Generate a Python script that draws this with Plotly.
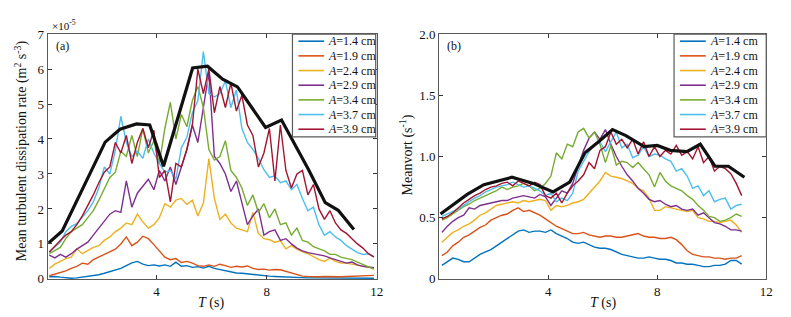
import plotly.graph_objects as go

# ---------------- data ----------------
labels = ["1.4", "1.9", "2.4", "2.9", "3.4", "3.7", "3.9"]
colors = ["#0072BD", "#D95319", "#EDB120", "#7E2F8E", "#77AC30", "#4DBEEE", "#A2142F"]

# time grid (s)
t_left = [round(0.1 + 0.2 * k, 1) for k in range(60)]
t_right = [round(0.1 + 0.2 * k, 1) for k in range(56)]

# (a) mean turbulent dissipation rate, units of 1e-5 m^2 s^-3
eps_14 = [0.06, 0.07, 0.05, 0.03, 0.02, 0.03, 0.05, 0.07, 0.1, 0.12, 0.16, 0.2, 0.24, 0.3, 0.38, 0.46, 0.5, 0.42, 0.38, 0.4,
          0.37, 0.4, 0.36, 0.48, 0.36, 0.38, 0.33, 0.35, 0.31, 0.36, 0.3, 0.27, 0.22, 0.19, 0.17, 0.16, 0.14, 0.12, 0.11, 0.09,
          0.08, 0.07, 0.06, 0.06, 0.05, 0.04, 0.04, 0.03, 0.03, 0.03, 0.02, 0.02, 0.02, 0.02, 0.02, 0.02, 0.02, 0.02, 0.02, 0.02]
eps_19 = [0.09, 0.13, 0.18, 0.23, 0.3, 0.36, 0.45, 0.42, 0.55, 0.62, 0.7, 0.78, 0.85, 1.0, 1.2, 0.95, 1.05, 1.22, 1.15, 0.98,
          0.8, 0.62, 0.55, 0.58, 0.47, 0.5, 0.45, 0.38, 0.36, 0.4, 0.36, 0.42, 0.38, 0.33, 0.36, 0.34, 0.37, 0.3, 0.27, 0.28,
          0.25, 0.27, 0.26, 0.22, 0.18, 0.12, 0.08, 0.07, 0.06, 0.06, 0.07, 0.06, 0.07, 0.06, 0.07, 0.08, 0.08, 0.09, 0.1, 0.1]
eps_24 = [0.3, 0.42, 0.5, 0.58, 0.62, 0.86, 0.72, 0.8, 0.9, 0.95, 1.1, 1.2, 1.35, 1.45, 1.6, 1.55, 1.85, 1.63, 1.45, 1.55,
          1.75, 2.15, 2.05, 2.25, 2.3, 2.13, 2.25, 1.8, 2.17, 3.44, 2.3, 1.7, 1.85, 1.6, 1.45, 1.4, 1.35, 1.9, 1.3, 1.15,
          1.12, 1.05, 1.09, 0.86, 0.95, 0.85, 0.77, 0.72, 0.63, 0.55, 0.5, 0.59, 0.5, 0.45, 0.45, 0.42, 0.4, 0.36, 0.33, 0.3]
eps_29 = [0.68, 0.6, 0.7, 0.62, 0.72, 0.85, 0.95, 1.05, 1.25, 1.45, 1.65, 1.85, 1.95, 1.9, 2.8, 2.05, 2.45, 2.65, 2.85, 2.55,
          3.1, 2.8, 3.2, 2.7, 3.2, 3.7, 4.4, 3.9, 4.9, 5.9, 3.5, 3.3, 3.0, 2.5, 2.8, 2.2, 1.55, 1.8, 2.0, 1.25,
          1.35, 1.4, 1.1, 1.15, 1.0, 0.88, 0.8, 0.75, 0.72, 0.7, 0.66, 0.6, 0.55, 0.5, 0.45, 0.48, 0.4, 0.36, 0.34, 0.32]
eps_34 = [0.72, 0.8, 0.9, 1.15, 1.35, 1.45, 1.55, 1.75, 1.95, 2.25, 2.6, 2.9, 3.05, 3.65, 3.5, 4.1, 3.5, 4.3, 3.6, 3.95,
          3.3, 4.3, 5.05, 4.0, 4.7, 4.35, 5.1, 5.5, 4.9, 3.7, 3.4, 3.5, 3.95, 3.1, 2.9, 2.6, 2.1, 2.4, 1.9, 2.15,
          1.75, 2.0, 1.55, 1.6, 1.25, 1.45, 1.1, 1.05, 0.92, 0.86, 0.8, 0.7, 0.7, 0.62, 0.59, 0.55, 0.48, 0.42, 0.35, 0.28]
eps_37 = [0.77, 0.9, 1.05, 1.35, 1.5, 1.58, 1.75, 1.95, 2.2, 2.6, 3.2, 3.0, 3.67, 4.65, 3.9, 3.5, 3.65, 3.45, 4.0, 3.6,
          3.3, 3.05, 3.1, 2.85, 3.75, 4.05, 4.75, 5.1, 6.5, 5.3, 5.2, 5.3, 5.66, 4.9, 5.4, 4.3, 3.9, 3.7, 3.45, 3.12,
          2.9, 2.95, 2.75, 2.8, 2.55, 2.7, 2.3, 1.95, 2.05, 1.55, 1.25, 1.35, 1.2, 1.1, 0.95, 0.85, 0.75, 0.7, 0.72, 0.62]
eps_39 = [0.77, 0.95, 1.1, 1.25, 1.35, 1.55, 1.8, 2.1, 2.4, 2.75, 3.05, 3.2, 3.9, 3.6, 4.1, 3.3, 3.9, 4.3, 3.75, 4.25,
          2.9, 3.1, 2.2, 3.3, 3.2, 3.7, 4.4, 6.0, 5.3, 6.0, 4.75, 5.5, 4.9, 5.6, 4.8, 5.25, 4.4, 4.1, 3.2, 3.6,
          4.3, 2.8, 4.4, 3.1, 2.6, 3.0, 3.1, 2.4, 2.7, 2.0, 1.7, 1.95, 1.6, 1.4, 1.3, 1.15, 1.0, 0.88, 0.72, 0.63]
env_left_t = [0.08, 0.57, 2.13, 2.67, 3.27, 3.75, 4.25, 5.31, 5.85, 6.4, 6.94, 7.96, 8.54, 9.52, 10.13, 10.6, 11.17]
env_left_v = [1.03, 1.37, 3.91, 4.28, 4.43, 4.40, 3.22, 6.03, 6.08, 5.71, 5.49, 4.33, 4.54, 3.13, 2.18, 1.96, 1.41]

# (b) mean vorticity, s^-1
vort_14 = [0.11, 0.14, 0.17, 0.16, 0.14, 0.14, 0.17, 0.2, 0.22, 0.24, 0.27, 0.3, 0.33, 0.36, 0.39, 0.4, 0.38, 0.39, 0.39, 0.38,
           0.4, 0.37, 0.35, 0.33, 0.3, 0.29, 0.3, 0.28, 0.26, 0.25, 0.25, 0.24, 0.22, 0.2, 0.19, 0.18, 0.17, 0.17, 0.18, 0.17,
           0.16, 0.16, 0.15, 0.13, 0.13, 0.12, 0.12, 0.11, 0.1, 0.1, 0.11, 0.11, 0.12, 0.15, 0.15, 0.12]
vort_19 = [0.19, 0.22, 0.27, 0.3, 0.34, 0.36, 0.39, 0.42, 0.44, 0.48, 0.5, 0.52, 0.53, 0.56, 0.58, 0.55, 0.56, 0.54, 0.52, 0.49,
           0.46, 0.43, 0.41, 0.39, 0.37, 0.37, 0.38, 0.36, 0.35, 0.34, 0.35, 0.35, 0.34, 0.34, 0.35, 0.36, 0.37, 0.35, 0.34, 0.34,
           0.33, 0.33, 0.34, 0.32, 0.28, 0.23, 0.2, 0.19, 0.18, 0.18, 0.17, 0.17, 0.16, 0.17, 0.17, 0.19]
vort_24 = [0.3, 0.34, 0.38, 0.4, 0.43, 0.45, 0.48, 0.52, 0.54, 0.57, 0.6, 0.61, 0.62, 0.63, 0.62, 0.64, 0.63, 0.64, 0.65, 0.64,
           0.56, 0.6, 0.59, 0.6, 0.62, 0.63, 0.65, 0.7, 0.75, 0.8, 0.87, 0.84, 0.83, 0.82, 0.8, 0.78, 0.74, 0.72, 0.66, 0.56,
           0.56, 0.59, 0.58, 0.57, 0.56, 0.55, 0.56, 0.5, 0.49, 0.47, 0.47, 0.46, 0.47, 0.48, 0.44, 0.38]
vort_29 = [0.38, 0.43, 0.47, 0.5, 0.52, 0.58, 0.57, 0.6, 0.61, 0.62, 0.63, 0.64, 0.64, 0.66, 0.67, 0.68, 0.67, 0.66, 0.69, 0.67,
           0.6, 0.66, 0.72, 0.7, 0.78, 0.92, 1.05, 1.15, 1.2, 1.14, 1.22, 1.1, 1.0, 0.92, 0.85, 0.8, 0.74, 0.7, 0.65, 0.63,
           0.64, 0.61, 0.59, 0.6, 0.57, 0.56, 0.57, 0.52, 0.54, 0.5, 0.46, 0.45, 0.43, 0.4, 0.4, 0.39]
vort_34 = [0.48, 0.5, 0.53, 0.56, 0.59, 0.61, 0.64, 0.66, 0.68, 0.7, 0.72, 0.75, 0.73, 0.75, 0.76, 0.78, 0.76, 0.72, 0.74, 0.78,
           0.84, 1.03, 0.98, 1.1, 1.08, 1.2, 1.23, 1.15, 1.2, 1.1, 0.95, 1.09, 0.93, 0.96, 0.95, 0.91, 0.95, 0.9, 0.85, 0.75,
           0.87, 0.8, 0.76, 0.74, 0.72, 0.68, 0.65, 0.6, 0.56, 0.51, 0.5, 0.47, 0.48, 0.5, 0.53, 0.51]
vort_37 = [0.51, 0.53, 0.55, 0.57, 0.6, 0.63, 0.66, 0.68, 0.71, 0.73, 0.75, 0.76, 0.77, 0.79, 0.77, 0.75, 0.76, 0.74, 0.72, 0.68,
           0.7, 0.63, 0.66, 0.64, 0.7, 0.88, 0.96, 1.04, 1.1, 1.12, 1.04, 1.12, 1.2, 1.07, 1.1, 0.99, 1.01, 1.08, 1.0, 1.02,
           1.01, 0.98, 0.96, 0.88, 0.9, 0.84, 0.74, 0.76, 0.68, 0.72, 0.63, 0.65, 0.66, 0.57, 0.6, 0.61]
vort_39 = [0.49, 0.51, 0.54, 0.58, 0.62, 0.65, 0.68, 0.7, 0.73, 0.75, 0.76, 0.78, 0.79, 0.76, 0.8, 0.78, 0.76, 0.79, 0.77, 0.68,
           0.66, 0.7, 0.62, 0.7, 0.76, 0.8, 0.85, 0.95, 0.9, 1.05, 1.08, 1.2, 1.1, 1.14, 1.07, 1.14, 1.02, 1.12, 1.0, 1.08,
           1.0, 1.05, 1.02, 1.09, 1.01, 1.04, 0.98, 1.08, 0.95, 1.0, 0.88, 0.92, 0.9, 0.86, 0.78, 0.68]
env_right_t = [0.05, 1.03, 1.64, 2.67, 3.45, 4.18, 4.79, 5.35, 5.85, 6.36, 6.85, 7.52, 8.0, 8.48, 9.09, 9.58, 10.12, 10.61, 11.2]
env_right_v = [0.53, 0.69, 0.77, 0.83, 0.78, 0.71, 0.79, 1.03, 1.12, 1.22, 1.17, 1.08, 1.09, 1.05, 1.04, 1.1, 0.92, 0.92, 0.83]

eps_series = [eps_14, eps_19, eps_24, eps_29, eps_34, eps_37, eps_39]
vort_series = [vort_14, vort_19, vort_24, vort_29, vort_34, vort_37, vort_39]

# ---------------- figure ----------------
W, H = 791, 317
FONT = "Liberation Serif"


def px(x):
    return x / W


def py(y):
    return 1 - y / H


fig = go.Figure()
for lab, col, ys in zip(labels, colors, eps_series):
    fig.add_trace(go.Scatter(x=t_left, y=ys, mode="lines", line=dict(color=col, width=1.4),
                             name=f"A={lab} cm", showlegend=False, xaxis="x", yaxis="y"))
fig.add_trace(go.Scatter(x=env_left_t, y=env_left_v, mode="lines", line=dict(color="#111111", width=3.2),
                         name="envelope (a)", showlegend=False, xaxis="x", yaxis="y"))
for lab, col, ys in zip(labels, colors, vort_series):
    fig.add_trace(go.Scatter(x=t_right, y=ys, mode="lines", line=dict(color=col, width=1.4),
                             name=f"A={lab} cm", showlegend=False, xaxis="x2", yaxis="y2"))
fig.add_trace(go.Scatter(x=env_right_t, y=env_right_v, mode="lines", line=dict(color="#111111", width=3.2),
                         name="envelope (b)", showlegend=False, xaxis="x2", yaxis="y2"))

ax_common = dict(showline=True, linecolor="#5a5a5a", linewidth=1.3, mirror="ticks", ticks="inside",
                 ticklen=4, tickcolor="#333333", showgrid=False, zeroline=False,
                 tickfont=dict(family=FONT, size=13, color="#111111"))
ydom = [py(277), py(20)]
fig.update_layout(
    width=W, height=H, margin=dict(l=0, r=0, t=0, b=0), autosize=False,
    paper_bgcolor="white", plot_bgcolor="white",
    xaxis=dict(domain=[px(40), px(372)], range=[0.04, 12], tickvals=[4, 8, 12], anchor="y", **ax_common),
    yaxis=dict(domain=ydom, range=[0, 7], tickvals=list(range(8)), anchor="x", **ax_common),
    xaxis2=dict(domain=[px(435), px(765)], range=[0, 12], tickvals=[4, 8, 12], anchor="y2", **ax_common),
    yaxis2=dict(domain=ydom, range=[0, 2], tickvals=[0, 0.5, 1, 1.5, 2],
                ticktext=["0", "0.5", "1.0", "1.5", "2.0"], anchor="x2", **ax_common),
)

ann = []
shapes = []


def add_text(x, y, text, size, angle=0, xa="center", ya="middle"):
    ann.append(dict(x=px(x), y=py(y), xref="paper", yref="paper", showarrow=False, textangle=angle,
                    xanchor=xa, yanchor=ya, text=text,
                    font=dict(family=FONT, size=size, color="#111111")))


# axis titles
add_text(13, 142, "Mean turbulent dissipation rate (m<sup>2</sup> s<sup>-3</sup>)", 14, angle=-90)
add_text(402, 147, "Meanvort (s<sup>-1</sup>)", 14, angle=-90)
add_text(205, 302, "<i>T</i> (s)", 14)
add_text(600, 302, "<i>T</i> (s)", 14)
add_text(42, 10, "×10<sup>-5</sup>", 11, xa="left")
add_text(55, 33, "(a)", 12)
add_text(450, 33, "(b)", 12)

# legends (one per panel)
for (bx0, bx1) in ((287, 371), (672, 765)):
    shapes.append(dict(type="rect", xref="paper", yref="paper", x0=px(bx0), x1=px(bx1), y0=py(128), y1=py(20),
                       line=dict(color="#5a5a5a", width=1.2), fillcolor="white", layer="above"))
    for i, (lab, col) in enumerate(zip(labels, colors)):
        yy = 27.5 + i * 15.4
        shapes.append(dict(type="line", xref="paper", yref="paper", x0=px(bx0 + 6), x1=px(bx0 + 32),
                           y0=py(yy), y1=py(yy), line=dict(color=col, width=1.6), layer="above"))
        add_text(bx0 + 34, yy, f"<i>A</i>={lab} cm", 12, xa="left")

fig.update_layout(annotations=ann, shapes=shapes)
fig.write_html("out.html")
